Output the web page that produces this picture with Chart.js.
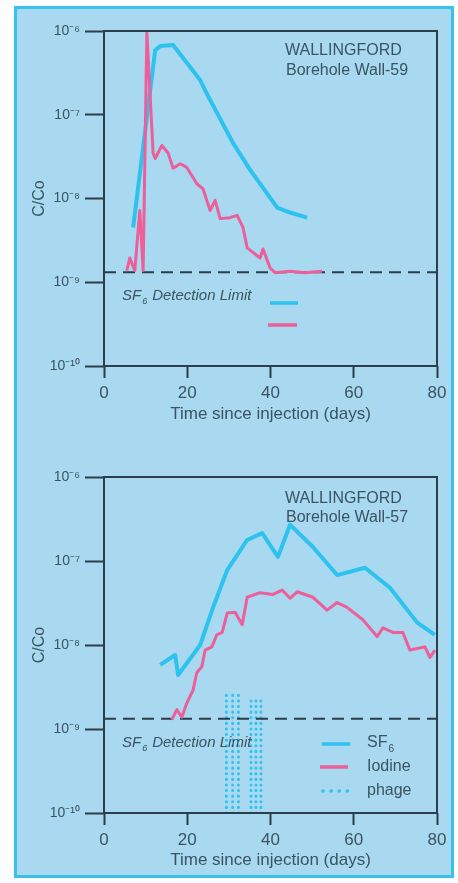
<!DOCTYPE html>
<html>
<head>
<meta charset="utf-8">
<title>Wallingford tracer breakthrough</title>
<script src="https://cdn.jsdelivr.net/npm/chart.js@4.4.1/dist/chart.umd.min.js"></script>
<style>
  html, body { margin: 0; padding: 0; background: #fbfdfe; }
  #sheet { position: absolute; left: 14px; top: 6px; width: 434px; height: 866px;
           background: #a9d8f1; border: 3px solid #38c1ea; }
  canvas { position: absolute; left: 0; }
  #wall59 { top: 0; }
  #wall57 { top: 440px; }
</style>
</head>
<body>
<div id="sheet"></div>
<canvas id="wall59" width="458" height="440"></canvas>
<canvas id="wall57" width="458" height="443"></canvas>
<script>
// axis values
const yDecades = [1e-10, 1e-9, 1e-8, 1e-7, 1e-6];
const yTickLabels = ['10⁻¹⁰', '10⁻⁹', '10⁻⁸', '10⁻⁷', '10⁻⁶'];
const xTickValues = [0, 20, 40, 60, 80];
const detectionLimit = 1.32e-9;

// Borehole Wall-59
const wall59Sf6Days = [7.0, 12.3, 13.5, 16.6, 23.1, 24.3, 31.0, 35.1, 41.6, 44.7, 48.8];
const wall59Sf6 = [4.5e-9, 5.9e-7, 6.6e-7, 6.8e-7, 2.6e-7, 1.95e-7, 4.6e-8, 2.2e-8, 7.8e-9, 6.8e-9, 5.9e-9];
const wall59IodineDays = [5.5, 6.2, 7.4, 8.6, 9.4, 10.3, 11.8, 12.3, 13.9, 15.4, 16.6, 18.3, 19.9,
  22.3, 23.8, 25.5, 26.7, 27.9, 30.3, 32.0, 33.4, 34.4, 37.5, 38.2, 39.9, 41.1, 44.7, 48.3, 52.4];
const wall59Iodine = [1.38e-9, 1.95e-9, 1.38e-9, 7.2e-9, 1.38e-9, 9.5e-7, 3.5e-8, 3.0e-8, 4.3e-8, 3.5e-8,
  2.3e-8, 2.6e-8, 2.35e-8, 1.5e-8, 1.3e-8, 7.2e-9, 9.5e-9, 5.75e-9, 5.9e-9, 6.3e-9, 4.5e-9, 2.57e-9,
  1.95e-9, 2.5e-9, 1.48e-9, 1.3e-9, 1.35e-9, 1.3e-9, 1.35e-9];

// Borehole Wall-57
const wall57Sf6Days = [13.5, 17.1, 17.8, 23.1, 26.2, 29.6, 34.4, 38.0, 41.8, 44.7, 50.2, 56.0, 62.7, 68.7, 75.2, 79.5];
const wall57Sf6 = [5.8e-9, 7.6e-9, 4.4e-9, 1.0e-8, 2.8e-8, 7.8e-8, 1.78e-7, 2.15e-7, 1.12e-7, 2.7e-7,
  1.47e-7, 6.8e-8, 8.3e-8, 4.8e-8, 1.86e-8, 1.32e-8];
const wall57IodineDays = [16.3, 17.5, 18.7, 19.9, 21.4, 22.3, 23.5, 24.3, 25.9, 27.1, 28.4, 29.6, 31.5,
  33.2, 34.4, 37.5, 40.6, 42.8, 44.7, 46.4, 50.2, 53.6, 56.0, 58.4, 62.2, 65.6, 67.0, 69.4, 71.8,
  73.5, 77.1, 78.3, 79.5];
const wall57Iodine = [1.29e-9, 1.7e-9, 1.38e-9, 2.04e-9, 2.9e-9, 4.7e-9, 5.5e-9, 8.7e-9, 9.5e-9, 1.32e-8,
  1.41e-8, 2.4e-8, 2.45e-8, 1.74e-8, 3.7e-8, 4.2e-8, 4.0e-8, 4.5e-8, 3.6e-8, 4.3e-8, 3.7e-8, 2.6e-8,
  3.2e-8, 2.8e-8, 2.0e-8, 1.26e-8, 1.6e-8, 1.41e-8, 1.41e-8, 8.7e-9, 9.5e-9, 7.1e-9, 8.7e-9];
const phageDays = [29.4, 30.9, 32.3, 35.3, 36.5, 37.7];
const phageTops = [2.9e-9, 2.9e-9, 2.9e-9, 2.2e-9, 2.2e-9, 2.2e-9];

const ink = '#2b3e49';
const textInk = '#3a5461';
const sf6Color = '#2ec2ee';
const iodineColor = '#ec5f98';
const family = '"Liberation Sans", Arial, sans-serif';

const points = (days, values) => days.map((d, i) => ({ x: d, y: values[i] }));

const lineSet = (label, days, values, color, width) => ({
    label: label,
    data: points(days, values),
    borderColor: color,
    borderWidth: width,
    borderJoinStyle: 'round',
    pointRadius: 0,
    tension: 0,
    fill: false
});

const detectionSet = () => ({
    label: 'detection',
    data: [{ x: 0, y: detectionLimit }, { x: 80, y: detectionLimit }],
    borderColor: ink,
    borderWidth: 2,
    borderDash: [12, 7],
    pointRadius: 0
});

const phageSets = () => phageDays.map((d, i) => ({
    label: 'phage',
    data: [{ x: d, y: yDecades[0] }, { x: d, y: phageTops[i] }],
    borderColor: sf6Color,
    borderWidth: 3,
    borderDash: [0.1, 5.5],
    borderCapStyle: 'round',
    pointRadius: 0
}));

// SF6 with a lowered, smaller 6
function drawSF6(ctx, x, y, size, italic) {
    const style = italic ? 'italic ' : '';
    ctx.font = style + size + 'px ' + family;
    ctx.fillText('SF', x, y);
    const w = ctx.measureText('SF').width;
    ctx.font = style + Math.round(size * 0.62) + 'px ' + family;
    ctx.fillText('6', x + w + 1, y + size * 0.38);
    return x + w + 1 + ctx.measureText('6').width;
}

const panelDecor = {
    id: 'panelDecor',
    afterDraw(chart, args, opts) {
        const { ctx, chartArea: a } = chart;
        ctx.save();
        ctx.strokeStyle = ink;
        ctx.lineWidth = 2;
        ctx.strokeRect(a.left, a.top, a.right - a.left, a.bottom - a.top);

        ctx.fillStyle = textInk;
        ctx.textBaseline = 'middle';
        ctx.textAlign = 'left';
        ctx.font = '16px ' + family;
        ctx.fillText('WALLINGFORD', 285, a.top + opts.siteY[0]);
        ctx.fillText(opts.borehole, 286, a.top + opts.siteY[1]);

        // detection limit caption
        const cy = a.bottom - 70;
        const end = drawSF6(ctx, 122, cy, 15, true);
        ctx.font = 'italic 15px ' + family;
        ctx.fillText('Detection Limit', end + 5, cy);

        // legend samples
        ctx.lineWidth = 3.5;
        opts.legend.forEach(item => {
            ctx.beginPath();
            ctx.strokeStyle = item.color;
            ctx.setLineDash(item.dash || []);
            ctx.lineCap = item.dash ? 'round' : 'butt';
            ctx.moveTo(item.x0, item.y);
            ctx.lineTo(item.x1, item.y);
            ctx.stroke();
            if (item.text) {
                ctx.fillStyle = textInk;
                if (item.text === 'SF6') drawSF6(ctx, 367, item.y - 1, 16, false);
                else {
                    ctx.font = '16px ' + family;
                    ctx.fillText(item.text, 367, item.y);
                }
            }
        });
        ctx.restore();
    }
};

function makePanel(canvasId, datasets, layout, decor) {
    return new Chart(document.getElementById(canvasId), {
        type: 'line',
        data: { datasets: datasets },
        options: {
            responsive: false,
            animation: false,
            layout: { padding: { left: 0, right: 21, top: layout.top, bottom: 0 } },
            plugins: {
                legend: { display: false },
                tooltip: { enabled: false },
                panelDecor: decor
            },
            scales: {
                x: {
                    type: 'linear',
                    min: 0,
                    max: 80,
                    afterBuildTicks: scale => { scale.ticks = xTickValues.map(v => ({ value: v })); },
                    afterFit: scale => { scale.height = layout.xHeight; },
                    border: { display: false },
                    grid: { drawOnChartArea: false, tickLength: 12, tickWidth: 2, tickColor: ink },
                    ticks: { color: textInk, padding: 5, font: { family: family, size: 17 } },
                    title: {
                        display: true,
                        text: 'Time since injection (days)',
                        color: textInk,
                        font: { family: family, size: 17 },
                        padding: { top: 0, bottom: layout.titlePad }
                    }
                },
                y: {
                    type: 'logarithmic',
                    min: yDecades[0],
                    max: yDecades[yDecades.length - 1],
                    afterBuildTicks: scale => { scale.ticks = yDecades.map(v => ({ value: v, major: true })); },
                    afterFit: scale => { scale.width = 104; },
                    border: { display: false },
                    grid: { drawOnChartArea: false, tickLength: 19, tickWidth: 2, tickColor: ink },
                    ticks: {
                        color: textInk,
                        padding: 5,
                        font: { family: family, size: 14 },
                        callback: (value, index) => yTickLabels[index]
                    },
                    title: {
                        display: true,
                        text: 'C/Co',
                        color: textInk,
                        font: { family: family, size: 16 },
                        padding: { top: 30, bottom: 0 }
                    }
                }
            }
        },
        plugins: [panelDecor]
    });
}

makePanel('wall59', [
    lineSet('Iodine', wall59IodineDays, wall59Iodine, iodineColor, 3),
    lineSet('SF6', wall59Sf6Days, wall59Sf6, sf6Color, 4),
    detectionSet()
], { top: 31, xHeight: 74, titlePad: 15 }, {
    borehole: 'Borehole Wall-59',
    siteY: [20, 40],
    legend: [
        { color: sf6Color, x0: 270, x1: 298, y: 303 },
        { color: iodineColor, x0: 268, x1: 297, y: 325 }
    ]
});

makePanel('wall57', [
    lineSet('Iodine', wall57IodineDays, wall57Iodine, iodineColor, 3),
    lineSet('SF6', wall57Sf6Days, wall57Sf6, sf6Color, 4),
    detectionSet(),
    ...phageSets()
], { top: 37, xHeight: 70, titlePad: 12 }, {
    borehole: 'Borehole Wall-57',
    siteY: [22, 41],
    legend: [
        { color: sf6Color, x0: 322, x1: 350, y: 304, text: 'SF6' },
        { color: iodineColor, x0: 320, x1: 348, y: 327, text: 'Iodine' },
        { color: sf6Color, x0: 323, x1: 352, y: 351, text: 'phage', dash: [0.1, 8] }
    ]
});
</script>
</body>
</html>
